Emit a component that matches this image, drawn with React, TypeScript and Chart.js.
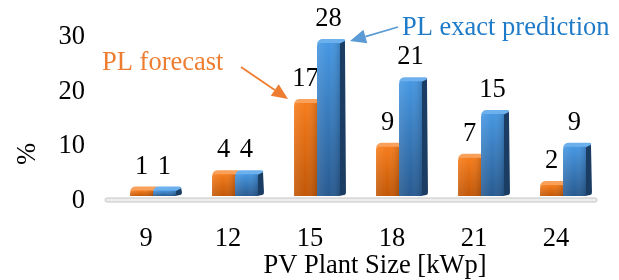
import React, { useEffect, useRef } from 'react';
import { Chart, registerables } from 'chart.js';

Chart.register(...registerables);

const categories = ['9', '12', '15', '18', '21', '24'];
const forecastValues = [1, 4, 17, 9, 7, 2];
const exactValues = [1, 4, 28, 21, 15, 9];
const seriesNames = ['PL forecast', 'PL exact prediction'];
const xTitle = 'PV Plant Size [kWp]';
const yTitle = '%';
const yMin = 0;
const yMax = 30;
const yStep = 10;

const FONT = '"Liberation Serif", "Times New Roman", serif';
const FS = 26.5;

const palettes = [
  { light: '#F67C1C', dark: '#C15707', side: '#8A3E06', top: '#F9A05A' },
  { light: '#4697E2', dark: '#285A90', side: '#1B3D64', top: '#6CB0EE' },
];

const SHIFT = 7;
const DEPTH = 6;
const RISE = 4;
const LIFT = 5;

const bars3d = {
  id: 'bars3d',
  beforeDatasetsDraw(chart: any) {
    const { ctx, chartArea } = chart;
    const y0 = chart.scales.y.getPixelForValue(0);
    ctx.save();
    ctx.beginPath();
    ctx.roundRect(chartArea.left, y0 - 3, chartArea.right - chartArea.left, 4, 2);
    ctx.fillStyle = '#EEEEEE';
    ctx.fill();
    ctx.lineWidth = 1;
    ctx.strokeStyle = '#C4C4C4';
    ctx.stroke();
    ctx.restore();
  },
  afterDatasetsDraw(chart: any) {
    const ctx = chart.ctx;
    chart.data.datasets.forEach((ds: any, di: number) => {
      const meta = chart.getDatasetMeta(di);
      const pal = palettes[di];
      meta.data.forEach((el: any, i: number) => {
        const { x, y, base, width } = el.getProps(['x', 'y', 'base', 'width'], true);
        const left = x - width / 2 + SHIFT;
        const right = left + width;
        const top = y - LIFT;
        const bottom = base - LIFT;
        ctx.save();
        // side face
        ctx.beginPath();
        ctx.moveTo(right - 1, top);
        ctx.lineTo(right + DEPTH - 1, top - RISE + 1);
        ctx.lineTo(right + DEPTH, bottom - RISE);
        ctx.quadraticCurveTo(right + DEPTH, bottom - 1, right + DEPTH - 2, bottom - 1);
        ctx.lineTo(right - 1, bottom);
        ctx.closePath();
        ctx.fillStyle = pal.side;
        ctx.fill();
        // top face
        ctx.beginPath();
        ctx.moveTo(left, top + 1);
        ctx.quadraticCurveTo(left + 1, top - RISE, left + DEPTH, top - RISE);
        ctx.lineTo(right + DEPTH - 3, top - RISE);
        ctx.quadraticCurveTo(right + DEPTH, top - RISE, right + DEPTH - 1, top - RISE + 2);
        ctx.lineTo(right - 1, top + 1);
        ctx.closePath();
        ctx.fillStyle = pal.top;
        ctx.fill();
        // front face
        const fg = ctx.createLinearGradient(0, top, 0, bottom);
        fg.addColorStop(0, pal.light);
        fg.addColorStop(1, pal.dark);
        ctx.beginPath();
        ctx.roundRect(left, top, width, bottom - top, [3, 1, 0, 0]);
        ctx.fillStyle = fg;
        ctx.fill();
        const hg = ctx.createLinearGradient(left, 0, right, 0);
        hg.addColorStop(0, 'rgba(255,255,255,0.10)');
        hg.addColorStop(0.5, 'rgba(255,255,255,0)');
        hg.addColorStop(1, 'rgba(0,0,0,0.15)');
        ctx.fillStyle = hg;
        ctx.fill();
        // value label
        ctx.fillStyle = '#000000';
        ctx.font = `${FS}px ${FONT}`;
        ctx.textAlign = 'center';
        ctx.textBaseline = 'alphabetic';
        ctx.fillText(String(ds.data[i]), x + SHIFT, top - RISE - 13);
        ctx.restore();
      });
    });
  },
};

function arrow(ctx: CanvasRenderingContext2D, x1: number, y1: number, x2: number, y2: number, color: string) {
  const ang = Math.atan2(y2 - y1, x2 - x1);
  const hl = 16;
  const hw = 7;
  const bx = x2 - hl * Math.cos(ang);
  const by = y2 - hl * Math.sin(ang);
  ctx.save();
  ctx.strokeStyle = color;
  ctx.fillStyle = color;
  ctx.lineWidth = 1.8;
  ctx.beginPath();
  ctx.moveTo(x1, y1);
  ctx.lineTo(bx, by);
  ctx.stroke();
  ctx.beginPath();
  ctx.moveTo(x2, y2);
  ctx.lineTo(bx + hw * Math.sin(ang), by - hw * Math.cos(ang));
  ctx.lineTo(bx - hw * Math.sin(ang), by + hw * Math.cos(ang));
  ctx.closePath();
  ctx.fill();
  ctx.restore();
}

const annotations = {
  id: 'annotations',
  afterDraw(chart: any) {
    const { ctx, chartArea } = chart;
    ctx.save();
    ctx.font = `${FS}px ${FONT}`;
    // y title
    ctx.fillStyle = '#000000';
    ctx.save();
    ctx.translate(28, 154);
    ctx.rotate(-Math.PI / 2);
    ctx.textAlign = 'center';
    ctx.textBaseline = 'middle';
    ctx.fillText(yTitle, 0, 0);
    ctx.restore();
    // x title
    ctx.textAlign = 'center';
    ctx.textBaseline = 'alphabetic';
    ctx.fillText(xTitle, (chartArea.left + chartArea.right) / 2 + 24, 273);
    // series callouts
    ctx.textAlign = 'left';
    ctx.fillStyle = '#EE7D31';
    ctx.fillText(seriesNames[0], 102, 70);
    ctx.fillStyle = '#1F7BC8';
    ctx.fillText(seriesNames[1], 402, 35);
    ctx.restore();
    arrow(ctx, 241, 67, 288, 99, '#EE7D31');
    arrow(ctx, 398, 27, 350, 41, '#5B9BD5');
  },
};

export default function App() {
  const ref = useRef<HTMLCanvasElement | null>(null);
  useEffect(() => {
    if (!ref.current) return;
    const chart = new Chart(ref.current, {
      type: 'bar',
      data: {
        labels: categories,
        datasets: [
          { label: seriesNames[0], data: forecastValues, backgroundColor: 'rgba(0,0,0,0)' },
          { label: seriesNames[1], data: exactValues, backgroundColor: 'rgba(0,0,0,0)' },
        ],
      },
      options: {
        responsive: false,
        animation: false,
        datasets: { bar: { categoryPercentage: 0.56, barPercentage: 1 } },
        layout: { padding: { top: 37, right: 22, left: 0, bottom: 0 } },
        plugins: { legend: { display: false }, tooltip: { enabled: false } },
        scales: {
          x: {
            grid: { display: false },
            border: { display: false },
            ticks: { color: '#000', font: { family: FONT, size: FS }, padding: 14 },
            afterFit: (s: any) => { s.height = 79; },
          },
          y: {
            min: yMin,
            max: yMax,
            grid: { display: false, drawTicks: false },
            border: { display: false },
            ticks: { stepSize: yStep, color: '#000', font: { family: FONT, size: FS }, padding: 20 },
            afterFit: (s: any) => { s.width = 105; },
          },
        },
      },
      plugins: [bars3d, annotations],
    });
    return () => chart.destroy();
  }, []);
  return (
    <div style={{ position: 'fixed', left: 0, top: 0, width: 619, height: 280, background: '#fff' }}>
      <canvas ref={ref} width={619} height={280} />
    </div>
  );
}
